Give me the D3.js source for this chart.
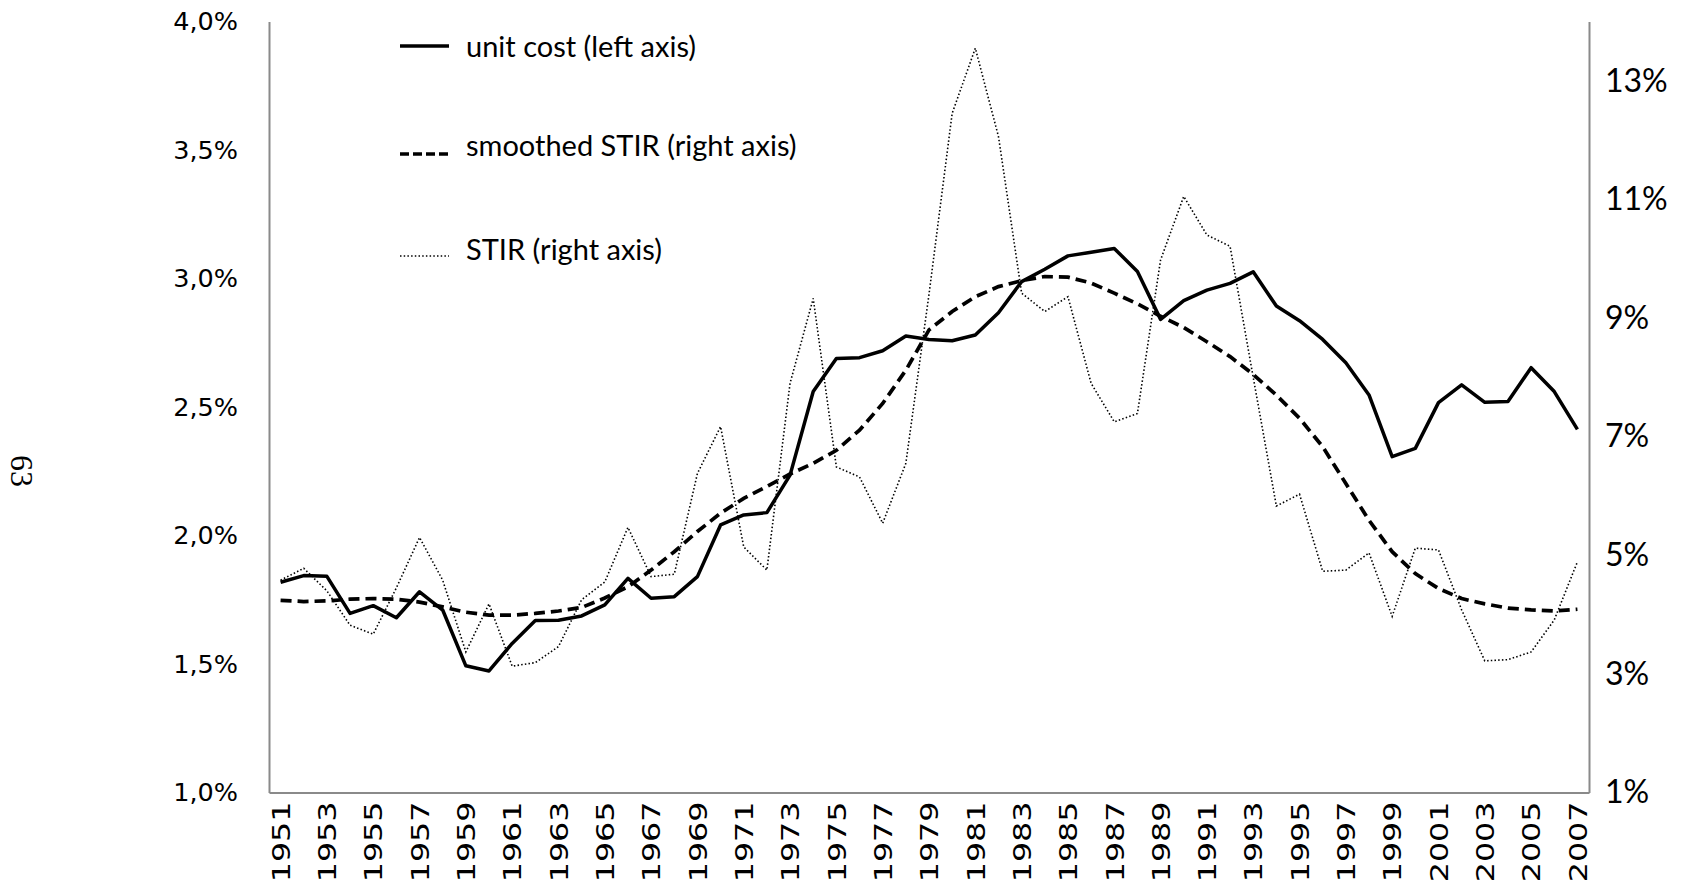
<!DOCTYPE html>
<html>
<head>
<meta charset="utf-8">
<script src="https://cdn.jsdelivr.net/npm/d3@7"></script>
<style>
  html, body { margin: 0; padding: 0; background: #fff; }
  svg { display: block; }
</style>
</head>
<body>
<svg id="chart" width="1686" height="882"></svg>
<script>
// data
var years = d3.range(1951, 2008);

// unit cost, left axis (%)
var unitCost = [1.818, 1.844, 1.841, 1.697, 1.727, 1.680, 1.781, 1.710, 1.493, 1.473,
    1.580, 1.669, 1.670, 1.687, 1.730, 1.833, 1.756, 1.762, 1.840, 2.041,
    2.080, 2.089, 2.235, 2.560, 2.689, 2.692, 2.719, 2.776, 2.763, 2.758,
    2.780, 2.867, 2.988, 3.036, 3.088, 3.102, 3.117, 3.027, 2.841, 2.914,
    2.955, 2.981, 3.026, 2.893, 2.836, 2.763, 2.672, 2.547, 2.307, 2.339,
    2.517, 2.586, 2.518, 2.521, 2.653, 2.560, 2.413];

// smoothed STIR, right axis (%)
var smoothedStir = [4.24, 4.22, 4.23, 4.26, 4.27, 4.26, 4.21, 4.13, 4.04, 3.99,
    3.99, 4.02, 4.06, 4.12, 4.28, 4.47, 4.75, 5.06, 5.40, 5.71,
    5.96, 6.16, 6.37, 6.55, 6.77, 7.11, 7.56, 8.12, 8.80, 9.11,
    9.36, 9.53, 9.63, 9.70, 9.69, 9.59, 9.42, 9.24, 9.03, 8.84,
    8.60, 8.35, 8.05, 7.70, 7.31, 6.83, 6.21, 5.59, 5.06, 4.69,
    4.44, 4.27, 4.18, 4.11, 4.08, 4.06, 4.09];

// STIR, right axis (%)
var stir = [4.58, 4.78, 4.40, 3.82, 3.67, 4.45, 5.30, 4.58, 3.37, 4.18,
    3.13, 3.19, 3.46, 4.25, 4.55, 5.47, 4.64, 4.68, 6.38, 7.17,
    5.14, 4.75, 7.90, 9.33, 6.49, 6.32, 5.54, 6.55, 9.40, 12.45,
    13.55, 12.06, 9.42, 9.11, 9.36, 7.90, 7.25, 7.39, 9.98, 11.05,
    10.40, 10.21, 8.00, 5.83, 6.03, 4.73, 4.75, 5.04, 3.97, 5.12,
    5.09, 4.08, 3.22, 3.24, 3.37, 3.91, 4.89];

var leftTicks = [1.0, 1.5, 2.0, 2.5, 3.0, 3.5, 4.0];
var rightTicks = [1, 3, 5, 7, 9, 11, 13];
var yearTicks = years.filter(function(y) { return (y - 1951) % 2 == 0; });

var legendItems = [
    {label: "unit cost (left axis)", key: "solid"},
    {label: "smoothed STIR (right axis)", key: "dashed"},
    {label: "STIR (right axis)", key: "dotted"}
];

//plot box (window.top is taken, so prefixed names)
var plotLeft = 269, plotRight = 1589, plotTop = 21.5, plotBottom = 792.5;

var svg = d3.select("#chart");

var x = d3.scalePoint().domain(years).range([plotLeft, plotRight]).padding(0.5);
var yL = d3.scaleLinear().domain([1, 4]).range([plotBottom, plotTop]);
var yR = d3.scaleLinear().domain([1, 14]).range([plotBottom, plotTop]);

var axisColor = "#8a8a8a";

// left axis
var gLeft = svg.append("g")
    .attr("transform", "translate(" + plotLeft + ",0)")
    .call(d3.axisLeft(yL).tickValues(leftTicks).tickSize(0).tickPadding(31)
        .tickFormat(function(d) { return d.toFixed(1).replace(".", ",") + "%"; }));
gLeft.select(".domain").attr("stroke", axisColor).attr("stroke-width", 2);
gLeft.selectAll("text")
    .attr("font-family", "DejaVu Sans")
    .attr("font-size", 25.5)
    .attr("fill", "#000");

// right axis
var gRight = svg.append("g")
    .attr("transform", "translate(" + plotRight + ",0)")
    .call(d3.axisRight(yR).tickValues(rightTicks).tickSize(0).tickPadding(16)
        .tickFormat(function(d) { return d + "%"; }));
gRight.select(".domain").attr("stroke", axisColor).attr("stroke-width", 2);
gRight.selectAll("text")
    .attr("font-family", "Lato")
    .attr("font-size", 32)
    .attr("fill", "#000");

// bottom axis, years every 2 and turned upright (stretched along their length like the original)
var gBottom = svg.append("g")
    .attr("transform", "translate(0," + plotBottom + ")")
    .call(d3.axisBottom(x).tickValues(yearTicks).tickSize(0).tickSizeOuter(0));
gBottom.select(".domain").attr("stroke", axisColor).attr("stroke-width", 2);
gBottom.selectAll("text")
    .attr("font-family", "DejaVu Sans")
    .attr("font-size", 25)
    .attr("fill", "#000")
    .attr("text-anchor", "end")
    .attr("dy", "0.35em")
    .attr("transform", "translate(0,9) rotate(-90) scale(1.27,1)")
    .attr("x", 0)
    .attr("y", 0);

// lines
function lineFor(values, scale) {
    return d3.line()
        .x(function(d, i) { return x(years[i]); })
        .y(function(d) { return scale(d); })(values);
}

svg.append("path")
    .attr("d", lineFor(stir, yR))
    .attr("fill", "none")
    .attr("stroke", "#000")
    .attr("stroke-width", 1.6)
    .attr("stroke-dasharray", "1.5,2.2");

svg.append("path")
    .attr("d", lineFor(smoothedStir, yR))
    .attr("fill", "none")
    .attr("stroke", "#000")
    .attr("stroke-width", 3.7)
    .attr("stroke-dasharray", "11,6");

svg.append("path")
    .attr("d", lineFor(unitCost, yL))
    .attr("fill", "none")
    .attr("stroke", "#000")
    .attr("stroke-width", 3.5)
    .attr("stroke-linejoin", "round");

// legend
var legendLineY = [46, 154, 256];
var legendTextY = [47, 146, 249.5];
var styles = {
    solid: {w: 3.5, dash: null},
    dashed: {w: 3.7, dash: "9,4"},
    dotted: {w: 1.6, dash: "1.5,2.2"}
};
var lg = svg.append("g").selectAll("g").data(legendItems).enter().append("g");
lg.append("line")
    .attr("x1", 400).attr("x2", 449)
    .attr("y1", function(d, i) { return legendLineY[i]; })
    .attr("y2", function(d, i) { return legendLineY[i]; })
    .attr("stroke", "#000")
    .attr("stroke-width", function(d) { return styles[d.key].w; })
    .attr("stroke-dasharray", function(d) { return styles[d.key].dash; });
lg.append("text")
    .attr("x", 466)
    .attr("y", function(d, i) { return legendTextY[i]; })
    .attr("dy", "0.35em")
    .attr("font-family", "Lato")
    .attr("font-size", 29)
    .attr("fill", "#000")
    .text(function(d) { return d.label; });

// page number on the side
svg.append("text")
    .attr("transform", "translate(22,471) rotate(90)")
    .attr("text-anchor", "middle")
    .attr("dy", "0.35em")
    .attr("font-family", "Liberation Serif")
    .attr("font-size", 32)
    .attr("fill", "#000")
    .text("63");
</script>
</body>
</html>
